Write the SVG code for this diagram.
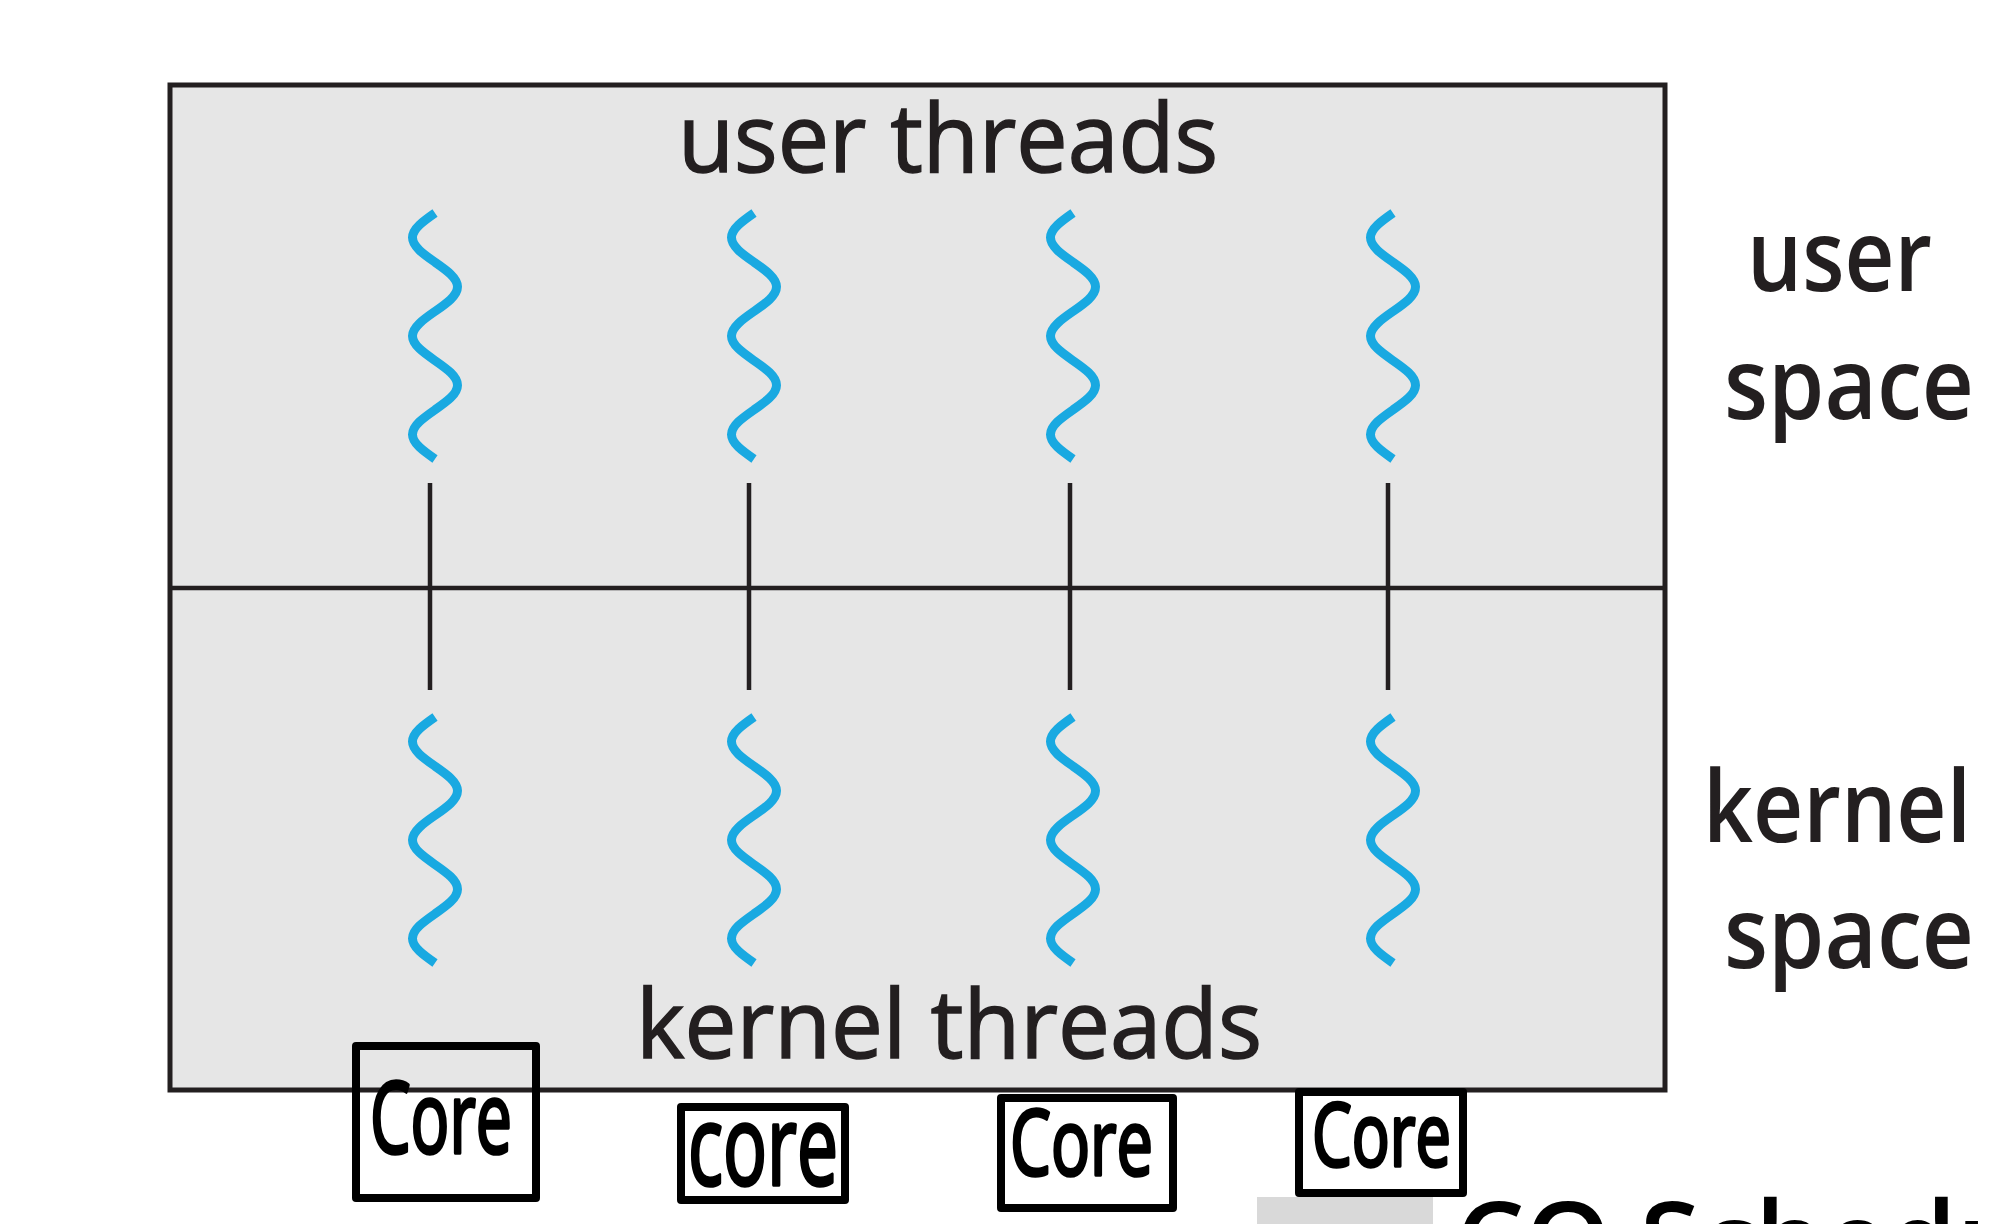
<svg xmlns="http://www.w3.org/2000/svg" width="2000" height="1224" viewBox="0 0 2000 1224">
<style>
.lbl{font-family:"Open Sans","Liberation Sans",sans-serif;fill:#231f20;stroke:#231f20;stroke-width:1.5;}
.side{font-family:"Open Sans","Liberation Sans",sans-serif;fill:#231f20;font-weight:600;}
.tick{stroke:#231f20;stroke-width:4.5;}
.core{fill:none;stroke:#000;stroke-width:8;stroke-linejoin:round;}
.ctext{font-family:"Open Sans","Liberation Sans",sans-serif;fill:#000;stroke:#000;stroke-width:3.5;stroke-linejoin:round;}
</style>
<defs>
<path id="thread" fill="none" stroke="#19a9e1" stroke-width="9" d="M0,0 c-11.5,8.02 -22.5,15.7 -22.5,24.6 s11,16.57 22.5,24.6 s22.5,15.7 22.5,24.6 s-11,16.57 -22.5,24.6 s-22.5,15.7 -22.5,24.6 s11,16.57 22.5,24.6 s22.5,15.7 22.5,24.6 s-11,16.57 -22.5,24.6 s-22.5,15.7 -22.5,24.6 s11,16.57 22.5,24.6"/>
</defs>
<rect width="2000" height="1224" fill="#fff"/>
<g id="address-space">
<rect x="170" y="85" width="1495" height="1005" fill="#e6e6e6" stroke="#231f20" stroke-width="5"/>
<line x1="170" y1="588" x2="1665" y2="588" stroke="#231f20" stroke-width="4.5"/>
<text class="lbl" x="678" y="172" font-size="96" textLength="540" lengthAdjust="spacingAndGlyphs">user threads</text>
<text class="lbl" x="636" y="1058" font-size="96" textLength="626" lengthAdjust="spacingAndGlyphs">kernel threads</text>
</g>
<g id="space-labels">
<text class="side" x="1747" y="291" font-size="100" textLength="185" lengthAdjust="spacingAndGlyphs">user</text>
<text class="side" x="1724" y="419" font-size="100" textLength="250" lengthAdjust="spacingAndGlyphs">space</text>
<text class="side" x="1703" y="842" font-size="100" textLength="268" lengthAdjust="spacingAndGlyphs">kernel</text>
<text class="side" x="1724" y="968" font-size="100" textLength="250" lengthAdjust="spacingAndGlyphs">space</text>
</g>
<g id="user-thread-1"><use href="#thread" x="435" y="213"/></g>
<g id="user-thread-2"><use href="#thread" x="754" y="213"/></g>
<g id="user-thread-3"><use href="#thread" x="1073" y="213"/></g>
<g id="user-thread-4"><use href="#thread" x="1393" y="213"/></g>
<g id="kernel-thread-1"><use href="#thread" x="435" y="717"/></g>
<g id="kernel-thread-2"><use href="#thread" x="754" y="717"/></g>
<g id="kernel-thread-3"><use href="#thread" x="1073" y="717"/></g>
<g id="kernel-thread-4"><use href="#thread" x="1393" y="717"/></g>
<g id="connectors">
<line class="tick" x1="430" y1="483" x2="430" y2="690"/>
<line class="tick" x1="749" y1="483" x2="749" y2="690"/>
<line class="tick" x1="1070" y1="483" x2="1070" y2="690"/>
<line class="tick" x1="1388" y1="483" x2="1388" y2="690"/>
</g>
<g id="core-1"><rect class="core" x="356" y="1046" width="180" height="152"/><text class="ctext" x="370" y="1153" font-size="98" textLength="142" lengthAdjust="spacingAndGlyphs">Core</text></g>
<g id="core-2"><rect class="core" x="681" y="1107" width="164" height="93"/><text class="ctext" x="688" y="1185" font-size="112" textLength="150" lengthAdjust="spacingAndGlyphs">core</text></g>
<g id="core-3"><rect class="core" x="1001" y="1098" width="172" height="110"/><text class="ctext" x="1010" y="1175" font-size="92" textLength="143" lengthAdjust="spacingAndGlyphs">Core</text></g>
<g id="core-4"><rect class="core" x="1299" y="1092" width="164" height="101"/><text class="ctext" x="1312" y="1166" font-size="88" textLength="139" lengthAdjust="spacingAndGlyphs">Core</text></g>
<g id="footer">
<rect x="1257" y="1197" width="176" height="27" fill="#d9d9d9"/>
<text x="1455" y="1281" font-family="Open Sans, Liberation Sans, sans-serif" font-weight="600" font-size="110" fill="#000">CO Scheduling</text>
</g>
</svg>
